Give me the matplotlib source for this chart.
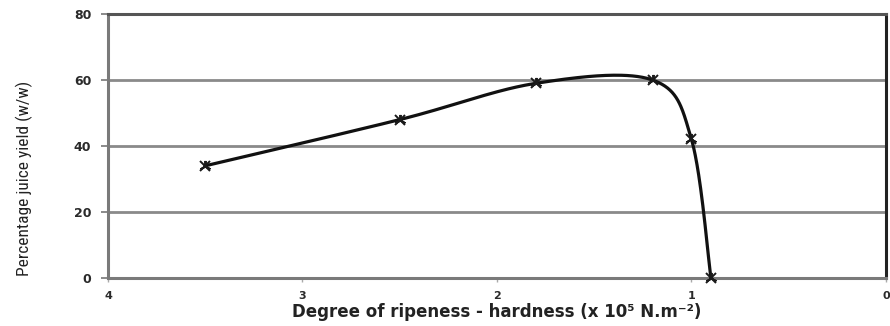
import numpy as np
import matplotlib
matplotlib.use("Agg")
import matplotlib.pyplot as plt
from matplotlib import font_manager

# Ripeness (hardness, x10^5 N/m^2) vs percentage juice yield
hardness = [3.5, 2.5, 1.8, 1.2, 1.0, 0.9]
juice_yield = [34, 48, 59, 60, 42, 0]

x_ticks = [4, 3, 2, 1, 0]
y_ticks = [0, 20, 40, 60, 80]

names = {f.name for f in font_manager.fontManager.ttflist}
narrow = "Liberation Sans"
for cand in ["Liberation Sans Narrow", "Roboto Condensed", "Noto Sans Condensed",
             "Open Sans Condensed", "DejaVu Sans Condensed"]:
    if cand in names:
        narrow = cand
        break

fig = plt.figure(figsize=(8.9, 3.26), dpi=100)
ax = fig.add_axes([0.1213, 0.1472, 0.8742, 0.8098])
ax.set_xlim(4, 0)
ax.set_ylim(0, 80)

ax.set_yticks(y_ticks)
ax.set_xticks(x_ticks)
ax.set_yticklabels([str(v) for v in y_ticks], fontsize=9, fontweight="bold",
                   family="DejaVu Sans", color="#2a2a2a")
ax.set_xticklabels([str(v) for v in x_ticks], fontsize=8, fontweight="bold",
                   family="DejaVu Sans", color="#2a2a2a")
ax.tick_params(axis="y", direction="out", length=5, width=1.2, color="#777777", pad=7)
ax.tick_params(axis="x", direction="out", length=3, width=1.0, color="#aaaaaa", pad=6.5)

for y in y_ticks[1:-1]:
    ax.axhline(y, color="#8a8a8a", lw=2.0, zorder=1)

for side in ["left", "bottom"]:
    ax.spines[side].set_color("#7a7a7a")
    ax.spines[side].set_linewidth(2.2)
ax.spines["top"].set_color("#555555")
ax.spines["top"].set_linewidth(2.2)
ax.spines["right"].set_color("#222222")
ax.spines["right"].set_linewidth(2.2)

# Smoothed curve: Catmull-Rom style Bezier in display space
fig.canvas.draw()
pts = ax.transData.transform(np.column_stack([hardness, juice_yield]))
curve = []
n = len(pts)
for i in range(n - 1):
    p0 = pts[i - 1] if i > 0 else pts[i]
    p1 = pts[i]
    p2 = pts[i + 1]
    p3 = pts[i + 2] if i + 2 < n else pts[i + 1]
    c1 = p1 + (p2 - p0) / 6.0
    c2 = p2 - (p3 - p1) / 6.0
    t = np.linspace(0, 1, 60)[:, None]
    seg = ((1 - t) ** 3) * p1 + 3 * ((1 - t) ** 2) * t * c1 + 3 * (1 - t) * t ** 2 * c2 + t ** 3 * p2
    curve.append(seg if i == 0 else seg[1:])
curve = ax.transData.inverted().transform(np.vstack(curve))

ax.plot(curve[:, 0], curve[:, 1], color="#111111", lw=2.3, zorder=3, clip_on=False)
ax.plot(hardness, juice_yield, linestyle="none", marker=(3, 2, 0), markersize=8,
        markeredgewidth=1.4, markeredgecolor="#1a1a1a", zorder=4, clip_on=False)
ax.plot(hardness, juice_yield, linestyle="none", marker="x", markersize=6.5,
        markeredgewidth=1.4, markeredgecolor="#1a1a1a", zorder=4, clip_on=False)

ax.set_xlabel("Degree of ripeness - hardness (x 10\u2075 N.m\u207b\u00b2)",
              fontsize=12, fontweight="bold", family="DejaVu Sans", color="#222222",
              va="center")
ax.xaxis.set_label_coords(0.5, -0.129)
ax.set_ylabel("Percentage juice yield (w/w)", fontsize=12.5, family=narrow,
              color="#222222")
ax.yaxis.set_label_coords(-0.0964, 0.379)

fig.savefig("out.png", dpi=100)
